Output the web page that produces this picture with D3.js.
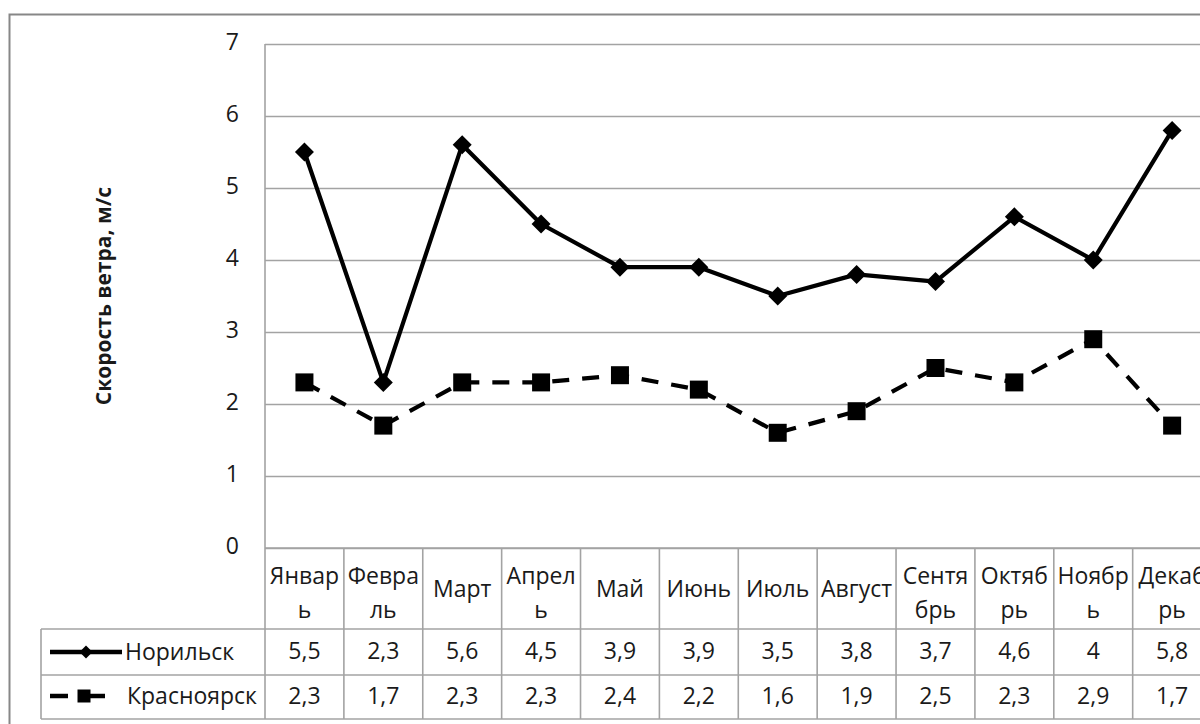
<!DOCTYPE html>
<html>
<head>
<meta charset="utf-8">
<script src="https://cdn.jsdelivr.net/npm/d3@7/dist/d3.min.js"></script>
<style>
  html, body { margin: 0; padding: 0; background: #fff; }
  svg { display: block; }
  text { font-family: "Open Sans", "Noto Sans", sans-serif; fill: #1a1a1a; }
</style>
</head>
<body>
<svg id="chart" width="1200" height="724"></svg>
<script>
// Monthly mean wind speed, m/s
const months = ["Январь", "Февраль", "Март", "Апрель", "Май", "Июнь",
                "Июль", "Август", "Сентябрь", "Октябрь", "Ноябрь", "Декабрь"];
// Category labels as they wrap inside the data-table header cells
const monthLines = [["Январ", "ь"], ["Февра", "ль"], ["Март"], ["Апрел", "ь"], ["Май"], ["Июнь"],
                    ["Июль"], ["Август"], ["Сентя", "брь"], ["Октяб", "рь"], ["Ноябр", "ь"], ["Декаб", "рь"]];
const norilsk     = [5.5, 2.3, 5.6, 4.5, 3.9, 3.9, 3.5, 3.8, 3.7, 4.6, 4, 5.8];
const krasnoyarsk = [2.3, 1.7, 2.3, 2.3, 2.4, 2.2, 1.6, 1.9, 2.5, 2.3, 2.9, 1.7];
const seriesNames = ["Норильск", "Красноярск"];
const yTicks = [0, 1, 2, 3, 4, 5, 6, 7];
const yTitle = "Скорость ветра, м/с";

const series = [
  { name: seriesNames[0], values: norilsk, dashed: false, marker: "diamond" },
  { name: seriesNames[1], values: krasnoyarsk, dashed: true, marker: "square" }
];

const svg = d3.select("#chart");

// Plot geometry (the last column runs past the right edge of the frame)
const plotLeft = 265, plotTop = 44, plotBottom = 548;
const colW = 78.88;
const plotRight = plotLeft + colW * months.length;

const x = d3.scaleBand().domain(months).range([plotLeft, plotRight]).padding(0);
const xc = m => x(m) + x.bandwidth() / 2;
const y = d3.scaleLinear().domain([0, 7]).range([plotBottom, plotTop]);

const gridColor = "#a3a3a3";
const fontSize = 23;

// Outer chart frame
svg.append("rect")
  .attr("x", 9.5).attr("y", 14.5)
  .attr("width", 1300).attr("height", 800)
  .attr("fill", "none").attr("stroke", "#878787").attr("stroke-width", 2);

// Value axis with gridlines
const yAxis = d3.axisLeft(y)
  .tickValues(yTicks)
  .tickSize(-(plotRight - plotLeft))
  .tickPadding(26)
  .tickFormat(d3.format("d"));

const gy = svg.append("g")
  .attr("transform", `translate(${plotLeft},0)`)
  .call(yAxis);
gy.select(".domain").remove();
gy.selectAll(".tick line").attr("stroke", gridColor).attr("stroke-width", 1.6);
gy.selectAll(".tick text")
  .attr("font-size", fontSize).attr("fill", "#1a1a1a")
  .attr("dy", "0.26em")
  .style("font-family", "'Open Sans', sans-serif");

// Plot-area left edge (continues down through the header row)
svg.append("line")
  .attr("x1", plotLeft).attr("x2", plotLeft)
  .attr("y1", plotTop).attr("y2", 719)
  .attr("stroke", gridColor).attr("stroke-width", 1.6);

// Axis title
svg.append("text")
  .attr("transform", `translate(111,296) rotate(-90)`)
  .attr("text-anchor", "middle")
  .attr("font-size", 21).attr("font-weight", "bold")
  .text(yTitle);

// Data table
const rowTop = [548, 629, 675, 719];
const table = svg.append("g");
// horizontal rules
table.selectAll("line.h").data([
  { y: rowTop[0], x1: plotLeft },
  { y: rowTop[1], x1: 41 },
  { y: rowTop[2], x1: 41 },
  { y: rowTop[3], x1: 41 }
]).join("line")
  .attr("x1", d => d.x1).attr("x2", plotRight)
  .attr("y1", d => d.y).attr("y2", d => d.y)
  .attr("stroke", gridColor).attr("stroke-width", 1.6);
// vertical rules between categories
table.selectAll("line.v").data(months).join("line")
  .attr("x1", d => x(d) + x.bandwidth()).attr("x2", d => x(d) + x.bandwidth())
  .attr("y1", rowTop[0]).attr("y2", rowTop[3])
  .attr("stroke", gridColor).attr("stroke-width", 1.6);
// legend column left edge
table.append("line")
  .attr("x1", 41).attr("x2", 41).attr("y1", rowTop[1]).attr("y2", rowTop[3])
  .attr("stroke", gridColor).attr("stroke-width", 1.6);

// header labels
const hdr = table.selectAll("text.hdr").data(months).join("text")
  .attr("class", "hdr")
  .attr("text-anchor", "middle")
  .attr("font-size", fontSize);
hdr.each(function (m, i) {
  const lines = monthLines[i];
  const t = d3.select(this);
  if (lines.length === 1) {
    t.append("tspan").attr("x", xc(m)).attr("y", 597).text(lines[0]);
  } else {
    t.append("tspan").attr("x", xc(m)).attr("y", 584).text(lines[0]);
    t.append("tspan").attr("x", xc(m)).attr("y", 618).text(lines[1]);
  }
});

const fmt = v => String(v).replace(".", ",");
const valueBaseline = [659, 704];
series.forEach((s, si) => {
  table.selectAll(`text.val${si}`).data(s.values).join("text")
    .attr("class", `val${si}`)
    .attr("x", (d, i) => xc(months[i]))
    .attr("y", valueBaseline[si])
    .attr("text-anchor", "middle")
    .attr("font-size", fontSize)
    .text(fmt);
});

// Marker shapes
function markerPath(type, r) {
  if (type === "diamond") return `M0,${-r}L${r},0L0,${r}L${-r},0Z`;
  return `M${-r},${-r}H${r}V${r}H${-r}Z`;
}

// Lines and markers
const line = d3.line()
  .x((d, i) => xc(months[i]))
  .y(d => y(d));

series.forEach(s => {
  svg.append("path")
    .datum(s.values)
    .attr("d", line)
    .attr("fill", "none")
    .attr("stroke", "#000")
    .attr("stroke-width", 4.2)
    .attr("stroke-linejoin", "round")
    .attr("stroke-dasharray", s.dashed ? "17,13" : null);
  svg.selectAll(null).data(s.values).join("path")
    .attr("transform", (d, i) => `translate(${xc(months[i])},${y(d)})`)
    .attr("d", markerPath(s.marker, s.marker === "diamond" ? 9.5 : 9))
    .attr("fill", "#000");
});

// Legend keys inside the table
const legendRows = [652, 696];
series.forEach((s, si) => {
  const g = svg.append("g").attr("transform", `translate(0,${legendRows[si]})`);
  if (s.dashed) {
    g.append("line").attr("x1", 50).attr("x2", 68).attr("y1", 0).attr("y2", 0)
      .attr("stroke", "#000").attr("stroke-width", 4.5);
    g.append("line").attr("x1", 84).attr("x2", 105).attr("y1", 0).attr("y2", 0)
      .attr("stroke", "#000").attr("stroke-width", 4.5);
    g.append("path").attr("transform", "translate(84,0)").attr("d", markerPath("square", 6.5)).attr("fill", "#000");
  } else {
    g.append("line").attr("x1", 50).attr("x2", 122).attr("y1", 0).attr("y2", 0)
      .attr("stroke", "#000").attr("stroke-width", 4.5);
    g.append("path").attr("transform", "translate(86,0)").attr("d", markerPath("diamond", 6.5)).attr("fill", "#000");
  }
  g.append("text")
    .attr("x", s.dashed ? 127 : 125).attr("y", 8)
    .attr("font-size", fontSize)
    .text(s.name);
});
</script>
</body>
</html>
